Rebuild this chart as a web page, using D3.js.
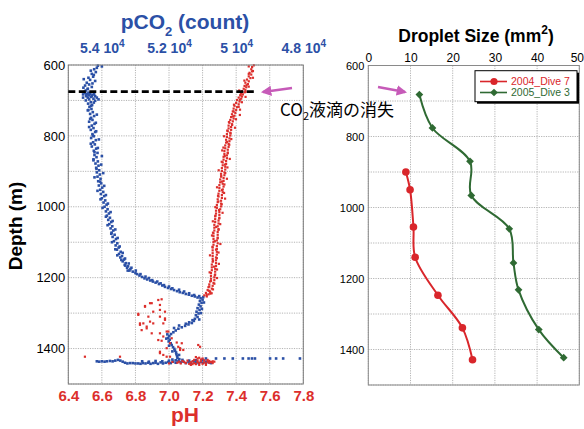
<!DOCTYPE html>
<html><head><meta charset="utf-8">
<script src="https://cdn.jsdelivr.net/npm/d3@7"></script>
<style>body{margin:0;background:#fff}svg{display:block}text{font-family:"Liberation Sans",Arial,Helvetica,sans-serif}</style>
</head><body><svg id="c" width="584" height="429"></svg>
<script>
// ---------- data ----------
const pHTicks = [6.4, 6.6, 6.8, 7.0, 7.2, 7.4, 7.6, 7.8];
const pco2Ticks = [54000, 52000, 50000, 48000];
const depthTicks = [600, 800, 1000, 1200, 1400];
const depthGrid = [600, 700, 800, 900, 1000, 1100, 1200, 1300, 1400, 1500];
const sizeTicks = [0, 10, 20, 30, 40, 50];
const seriesNames = ["2004_Dive 7", "2005_Dive 3"];
const drop2004Depth = [900, 950, 1055, 1140, 1247, 1339, 1429];
const drop2004Size = [8.9, 9.9, 10.7, 11.1, 16.5, 22.3, 24.7];
const drop2005Depth = [682, 776, 870, 966, 1060, 1156, 1232, 1344, 1423];
const drop2005Size = [12.1, 15.2, 24.1, 24.4, 33.4, 34.4, 35.6, 40.4, 46.3];
const disappearDepth = 675;
const disappearPH = [6.4, 7.51];

// pCO2 (count) vs depth
const pco2Points = [
[54120,602],[54150,608],[54230,612],[54180,620],[54300,625],[54260,633],[54400,636],[54350,642],[54200,645],[54450,650],
[54380,655],[54500,658],[54300,662],[54420,667],[54550,664],[54480,672],[54520,676],[54400,678],[54350,681],[54560,683],
[54470,686],[54300,688],[54420,692],[54380,697],[54500,679],[54450,682],[54380,685],[54280,684],[54200,688],[54150,692],
[54250,695],[54330,690],[54460,688],[54100,697],[54200,701],[54480,700],[54330,705],[54410,709],[54290,713],[54370,718],
[54310,724],[54420,728],[54270,733],[54350,738],[54230,744],[54320,749],[54280,755],[54380,760],[54220,766],[54300,771],
[54250,778],[54330,783],[54200,789],[54280,795],[54240,801],[54320,806],[54180,812],[54260,818],[54210,824],[54300,830],
[54170,836],[54240,842],[54130,848],[54220,854],[54160,860],[54250,866],[54120,872],[54190,878],[54100,884],[54170,890],
[54080,897],[54150,903],[54060,909],[54130,915],[54040,921],[54110,928],[54020,934],[54090,940],[53990,946],[54050,952],
[53960,958],[54030,964],[53930,970],[54000,976],[53900,982],[53950,988],[53860,994],[53920,1000],[53830,1007],[53880,1013],
[53790,1019],[53850,1025],[53760,1031],[53810,1037],[53720,1043],[53780,1049],[53690,1055],[53740,1061],[53660,1067],[53710,1073],
[53620,1079],[53680,1085],[53580,1091],[53640,1097],[53540,1103],[53590,1109],[53500,1115],[53550,1121],[53440,1127],[53490,1133],
[53400,1139],[53450,1143],[53340,1149],[53380,1154],[53290,1159],[53320,1164],[53220,1168],[53250,1172],[53150,1176],[53180,1180],
[53080,1183],[53000,1187],[52950,1190],[52880,1194],[52800,1198],[52730,1202],[52650,1205],[52560,1208],[52480,1211],[52400,1214],
[52300,1218],[52200,1222],[52120,1226],[52030,1229],[51940,1232],[51850,1235],[51760,1238],[51680,1241],[51590,1243],[51500,1246],
[51410,1248],[51320,1251],[51230,1253],[51150,1256],[51060,1258],[51000,1262],[51080,1266],[51030,1271],[51110,1276],[51060,1281],
[51150,1286],[51090,1291],[51180,1296],[51120,1301],[51200,1306],[51150,1311],[51230,1316],[51260,1322],[51320,1328],[51420,1332],
[51520,1336],[51620,1340],[51720,1344],[51800,1349],[51870,1354],[51940,1359],[51990,1365],[52030,1370],[51980,1375],[52010,1380],
[51950,1385],[51920,1390],[51880,1396],[51840,1401],[51820,1406],[51790,1411],[51780,1416],[51760,1421],[51750,1426],
[54000,604],[54330,616],[54240,628],[54540,640],[54280,652],[54420,668],[54230,681],[54560,692],[54240,706],[54320,715],
[54400,727],[54150,740],[54350,752],[54180,763],[54380,775],[54170,787],[54270,799],[54090,810],[54330,822],[54120,834],
[54220,846],[54000,857],[54250,869],[54020,881],[54160,893],[53960,905],[54220,917],[54050,929],[53930,941],[54130,955],
[53880,967],[54040,979],[53820,991],[53980,1003],[53740,1015],[53880,1028],[53680,1040],[53830,1052],[53600,1064],[53720,1076],
[53530,1088],[53700,1100],[53470,1112],[53600,1120],[53380,1130],[53540,1137],[53310,1146],[53420,1150],[53200,1160],[53300,1166],
[53120,1172],[53230,1180],[52990,1180],[52850,1190],[52700,1197],[52600,1201],[52500,1207],[52350,1211],[52250,1216],[52150,1221],
[52000,1225],[51900,1230],[51700,1234],[51550,1239],[51400,1244],[51250,1249],[51100,1252],[50980,1255],[50960,1270],[51020,1288],
[51050,1300],[51100,1318],[51300,1320],[51400,1326],[51500,1330],[51700,1335],[51850,1342],[52050,1360],[52080,1372],[52000,1392],
[51900,1408],[51700,1418],[51700,1430],
[54150,1436],[54080,1437],[54000,1436],[53920,1437],[53850,1436],[53760,1435],[53680,1436],[53600,1434],[53520,1432],[53450,1434],
[53380,1437],[53310,1440],[53240,1442],[53160,1441],[53080,1441],[53000,1442],[52920,1442],[52850,1443],[52780,1441],[52700,1442],
[52620,1440],[52550,1443],[52470,1441],[52400,1440],[52330,1443],[52250,1439],[52180,1442],[52100,1440],[52020,1438],[51950,1441],
[51880,1437],[51800,1440],[51720,1436],[51650,1439],[51570,1437],[51500,1441],[51420,1438],[51350,1440],[51270,1436],[51200,1439],
[51120,1441],[51050,1438],[50980,1440],[50900,1437],[50820,1439],[50750,1441],
[52800,1436],[52600,1437],[52400,1435],[52200,1436],[52000,1434],[51800,1433],[51600,1432],[51400,1434],[51200,1433],[51000,1432],
[51700,1430],[51900,1431],
[50900,1428],[50600,1428],[50350,1428],[50100,1428],[49800,1428],[49630,1428],[49530,1428],[49440,1428],[48990,1428],[48810,1428],
[48600,1428],[48100,1428]
];

// pH vs depth
const pHPoints = [
[7.505,601],[7.495,606],[7.49,612],[7.50,617],[7.48,622],[7.49,627],[7.475,632],[7.485,637],[7.465,641],[7.475,646],
[7.455,650],[7.47,654],[7.45,659],[7.46,663],[7.445,667],[7.455,671],[7.435,674],[7.45,677],[7.43,680],[7.44,683],
[7.425,686],[7.435,689],[7.415,692],[7.43,695],
[7.405,699],[7.42,703],[7.40,707],[7.415,711],[7.39,715],[7.405,719],[7.385,723],[7.40,727],[7.38,731],[7.395,735],
[7.375,739],[7.39,743],[7.37,747],[7.385,751],[7.365,755],[7.38,759],[7.36,763],[7.375,767],[7.355,771],[7.37,775],
[7.355,779],[7.37,783],[7.35,787],[7.365,791],[7.345,795],[7.365,799],[7.345,803],[7.36,807],[7.34,811],[7.36,815],
[7.34,819],[7.355,823],[7.335,827],[7.355,831],[7.335,835],[7.35,839],[7.33,843],[7.35,847],[7.33,851],
[7.345,855],[7.325,859],[7.345,863],[7.325,867],[7.34,871],[7.32,875],[7.34,879],[7.32,883],[7.335,887],[7.315,891],
[7.335,895],[7.315,899],[7.33,903],[7.31,907],[7.33,911],[7.31,915],[7.325,919],[7.305,923],[7.325,927],[7.305,931],
[7.32,935],[7.30,939],[7.325,943],[7.30,947],[7.32,951],
[7.30,955],[7.32,959],[7.295,963],[7.315,967],[7.295,971],[7.315,975],[7.29,979],[7.31,983],[7.29,987],[7.31,991],
[7.285,995],[7.31,999],[7.285,1003],[7.305,1007],[7.28,1011],[7.30,1015],[7.28,1019],[7.30,1023],[7.275,1027],[7.30,1031],
[7.275,1035],[7.295,1039],[7.275,1043],[7.295,1047],[7.27,1051],
[7.29,1055],[7.27,1059],[7.295,1063],[7.27,1067],[7.29,1071],[7.265,1075],[7.29,1079],[7.265,1083],[7.29,1087],[7.265,1091],
[7.285,1095],[7.265,1099],[7.29,1103],[7.265,1107],[7.285,1111],[7.26,1115],[7.285,1119],[7.26,1123],[7.285,1127],[7.26,1131],
[7.285,1135],[7.26,1139],[7.28,1143],[7.26,1147],[7.28,1151],
[7.26,1155],[7.28,1159],[7.255,1163],[7.28,1167],[7.255,1171],[7.275,1175],[7.255,1179],[7.275,1183],[7.25,1187],[7.275,1191],
[7.25,1195],[7.27,1199],[7.25,1203],[7.27,1207],[7.245,1211],[7.265,1215],[7.24,1219],[7.26,1223],[7.235,1227],[7.255,1231],
[7.23,1235],[7.245,1239],[7.22,1243],[7.235,1247],[7.21,1250],[7.225,1253],
[7.475,604],[7.495,618],[7.475,625],[7.50,636],[7.449,644],[7.462,657],[7.475,661],[7.418,672],[7.456,676],[7.426,684],
[7.456,690],[7.422,698],[7.434,705],[7.387,712],[7.415,718],[7.423,726],[7.385,731],[7.422,741],[7.382,745],[7.399,753],
[7.357,761],[7.376,769],[7.393,777],[7.347,785],[7.367,793],[7.328,801],[7.371,809],[7.346,817],[7.359,825],[7.324,833],
[7.317,841],[7.35,849],[7.332,857],[7.362,865],[7.314,873],[7.334,881],[7.348,889],[7.296,897],[7.335,905],[7.311,913],
[7.345,921],[7.315,929],[7.33,937],[7.286,945],[7.316,953],[7.328,961],[7.292,969],[7.334,977],[7.294,985],[7.314,993],
[7.276,1001],[7.298,1009],[7.319,1017],[7.277,1025],[7.299,1033],[7.261,1041],[7.305,1049],[7.281,1057],[7.295,1065],[7.262,1073],
[7.256,1081],[7.29,1089],[7.273,1097],[7.306,1105],[7.259,1113],[7.28,1121],[7.295,1129],[7.244,1137],[7.285,1145],[7.262,1153],
[7.297,1161],[7.268,1169],[7.286,1177],[7.242,1185],[7.273,1193],[7.286,1201],[7.25,1209],[7.27,1217],[7.24,1225],[7.262,1233],
[7.237,1237],[7.246,1245],
[7.224,1249],[7.244,1240],[7.254,1244],
[6.857,1280],[6.897,1272],[6.936,1263],[6.946,1277],[6.906,1296],[6.946,1291],[6.976,1296],[6.817,1302],[6.877,1310],[6.976,1315],
[6.966,1329],[6.887,1324],[6.847,1329],[6.827,1333],[6.867,1343],[6.837,1348],[6.897,1357],[6.946,1357],[6.986,1352],[6.936,1376],
[6.956,1378],[7.016,1371],[7.046,1383],[7.076,1385],[7.055,1395],[7.174,1390],[7.185,1395],[7.085,1404],[6.946,1409],[6.966,1418],
[6.986,1423],[7.006,1423],[6.708,1423],[6.499,1423],
[6.817,1305],[6.857,1282],[6.887,1272],[6.956,1261],[6.827,1329],[6.867,1338],[6.946,1310],[6.976,1319],[6.906,1329],[6.996,1352],
[6.966,1366],[7.006,1385],[6.986,1399],[7.066,1404],[6.946,1413],[7.066,1399],
[7.05,1440],[7.07,1442],[7.09,1438],[7.10,1441],[7.12,1443],[7.13,1439],[7.14,1436],[7.15,1441],[7.16,1444],[7.17,1438],
[7.18,1441],[7.19,1436],[7.20,1443],[7.21,1439],[7.22,1442],[7.23,1437],[7.24,1440],[7.25,1438],[7.26,1436],[7.27,1437],
[7.15,1432],[7.17,1434],[7.19,1431],[7.21,1433],[7.23,1432],[7.11,1434],[7.08,1435],[7.13,1446],[7.18,1446],[7.22,1446],
[7.02,1438],[7.00,1442],[7.16,1424],[7.18,1426],[7.20,1428],[7.17,1428],[7.24,1435],[7.26,1441],[7.14,1444],[7.06,1437]
];

// ---------- layout ----------
const svg = d3.select("#c");
const BLUE = "#2b50a6", RED = "#dc2f2c", RED2 = "#d9262b", GREEN = "#2f6a33", MAG = "#c65ab8";
const L = {x0: 68.3, x1: 303.3, y0: 65, y1: 384};
const R = {x0: 368.3, x1: 579.3, y0: 65.5, y1: 385};

const xPH = d3.scaleLinear([6.4, 7.8], [L.x0, L.x1]);
const xCO2 = d3.scaleLinear([55000, 48000], [L.x0, L.x1]);
const yL = d3.scaleLinear([600, 1500], [L.y0, L.y1]);
const xS = d3.scaleLinear([0, 50], [R.x0, R.x1]);
const yR = d3.scaleLinear([600, 1500], [R.y0, R.y1]);

function grid(g, xs, xt, ys, P) {
  g.selectAll(".gv").data(xt).join("line")
    .attr("x1", d => xs(d)).attr("x2", d => xs(d)).attr("y1", P.y0).attr("y2", P.y1);
  g.selectAll(".gh").data(depthGrid).join("line").attr("class","gh")
    .attr("x1", P.x0).attr("x2", P.x1).attr("y1", d => ys(d)).attr("y2", d => ys(d));
  g.selectAll("line").attr("stroke", "#b4b4b4").attr("stroke-width", 1).attr("stroke-dasharray", "1.2,1.2");
}

// ---------- left chart ----------
const gl = svg.append("g");
grid(gl.append("g"), xPH, pHTicks, yL, L);

const dots = gl.append("g");
dots.selectAll(".b").data(pco2Points).join("rect").attr("class","b")
  .attr("x", d => xCO2(d[0]) - 1.3).attr("y", d => yL(d[1]) - 1.3)
  .attr("width", 2.6).attr("height", 2.6).attr("fill", BLUE);
dots.selectAll(".r").data(pHPoints).join("rect").attr("class","r")
  .attr("x", d => xPH(d[0]) - 1.1).attr("y", d => yL(d[1]) - 1.1)
  .attr("width", 2.2).attr("height", 2.2).attr("fill", RED);

gl.append("rect").attr("x", L.x0).attr("y", L.y0).attr("width", L.x1 - L.x0).attr("height", L.y1 - L.y0)
  .attr("fill", "none").attr("stroke", "#7a7a7a").attr("stroke-width", 1);

// dashed line
gl.append("line").attr("x1", xPH(disappearPH[0])).attr("x2", xPH(disappearPH[1]))
  .attr("y1", yL(disappearDepth)).attr("y2", yL(disappearDepth))
  .attr("stroke", "#000").attr("stroke-width", 2.6).attr("stroke-dasharray", "7,3.5");

// axes left
const axB = gl.append("g").attr("transform", `translate(0,${L.y1})`)
  .call(d3.axisBottom(xPH).tickValues(pHTicks).tickSize(0).tickPadding(6).tickFormat(d3.format(".1f")));
axB.select(".domain").remove();
axB.selectAll("text").attr("fill", RED).attr("font-size", 15).attr("font-weight", "bold");

const axT = gl.append("g").attr("transform", `translate(0,${L.y0})`)
  .call(d3.axisTop(xCO2).tickValues(pco2Ticks).tickSize(0).tickPadding(12).tickFormat(d => d3.format("~g")(d / 1e4)));
axT.select(".domain").remove();
axT.selectAll("text").attr("fill", BLUE).attr("font-size", 14).attr("font-weight", "bold")
  .each(function(d) {
    const t = d3.select(this);
    t.append("tspan").text(" 10");
    t.append("tspan").attr("font-size", 10).attr("dy", -6).text("4");
  });

const axLft = gl.append("g").attr("transform", `translate(${L.x0},0)`)
  .call(d3.axisLeft(yL).tickValues(depthTicks).tickSize(0).tickPadding(3).tickFormat(d3.format("d")));
axLft.select(".domain").remove();
axLft.selectAll("text").attr("fill", "#000").attr("font-size", 13);

// titles left
const t1 = svg.append("text").attr("x", 185).attr("y", 29).attr("text-anchor", "middle")
  .attr("fill", BLUE).attr("font-size", 21).attr("font-weight", "bold");
t1.append("tspan").text("pCO");
t1.append("tspan").attr("font-size", 13).attr("dy", 7).text("2");
t1.append("tspan").attr("dy", -7).text(" (count)");

svg.append("text").attr("x", 185).attr("y", 422).attr("text-anchor", "middle")
  .attr("fill", RED).attr("font-size", 21).attr("font-weight", "bold").text("pH");

svg.append("text").attr("transform", "translate(22,226) rotate(-90)").attr("text-anchor", "middle")
  .attr("fill", "#000").attr("font-size", 19).attr("font-weight", "bold").text("Depth (m)");

// ---------- right chart ----------
const gr = svg.append("g");
grid(gr.append("g"), xS, sizeTicks, yR, R);
gr.append("rect").attr("x", R.x0).attr("y", R.y0).attr("width", R.x1 - R.x0).attr("height", R.y1 - R.y0)
  .attr("fill", "none").attr("stroke", "#8a8a8a").attr("stroke-width", 1);

const axRT = gr.append("g").attr("transform", `translate(0,${R.y0})`)
  .call(d3.axisTop(xS).tickValues(sizeTicks).tickSize(0).tickPadding(4));
axRT.select(".domain").remove();
axRT.selectAll("text").attr("fill", "#000").attr("font-size", 12)
  .attr("dx", d => d === 50 ? -2.5 : 0);

const axRL = gr.append("g").attr("transform", `translate(${R.x0},0)`)
  .call(d3.axisLeft(yR).tickValues(depthTicks).tickSize(0).tickPadding(4).tickFormat(d3.format("d")));
axRL.select(".domain").remove();
axRL.selectAll("text").attr("fill", "#000").attr("font-size", 11);

const line = d3.line().x(d => xS(d[0])).y(d => yR(d[1])).curve(d3.curveCatmullRom.alpha(0.5));
const s2004 = drop2004Size.map((s, i) => [s, drop2004Depth[i]]);
const s2005 = drop2005Size.map((s, i) => [s, drop2005Depth[i]]);
gr.append("path").attr("d", line(s2004)).attr("fill", "none").attr("stroke", RED2).attr("stroke-width", 2);
gr.append("path").attr("d", line(s2005)).attr("fill", "none").attr("stroke", GREEN).attr("stroke-width", 2);
gr.selectAll(".c4").data(s2004).join("circle").attr("cx", d => xS(d[0])).attr("cy", d => yR(d[1]))
  .attr("r", 3.8).attr("fill", RED2);
const dia = d3.symbol().type(d3.symbolSquare).size(30);
gr.selectAll(".d5").data(s2005).join("path").attr("d", dia)
  .attr("transform", d => `translate(${xS(d[0])},${yR(d[1])}) rotate(45)`).attr("fill", GREEN);

// title right
const t2 = svg.append("text").attr("x", 476).attr("y", 42).attr("text-anchor", "middle")
  .attr("fill", "#000").attr("font-size", 17.5).attr("font-weight", "bold");
t2.append("tspan").text("Droplet Size (mm");
t2.append("tspan").attr("font-size", 12).attr("dy", -8).text("2");
t2.append("tspan").attr("dy", 8).text(")");

// legend
const lg = svg.append("g");
lg.append("rect").attr("x", 477).attr("y", 72.7).attr("width", 102).attr("height", 31).attr("fill", "#000");
lg.append("rect").attr("x", 475).attr("y", 70.7).attr("width", 102).attr("height", 31).attr("fill", "#fff")
  .attr("stroke", "#000").attr("stroke-width", 1);
const lgCols = [RED2, GREEN];
seriesNames.forEach((n, i) => {
  const y = 81.5 + i * 11;
  lg.append("line").attr("x1", 480).attr("x2", 507).attr("y1", y).attr("y2", y).attr("stroke", lgCols[i]).attr("stroke-width", 1.6);
  if (i === 0) lg.append("circle").attr("cx", 494).attr("cy", y).attr("r", 3.6).attr("fill", lgCols[i]);
  else lg.append("path").attr("d", dia).attr("transform", `translate(494,${y}) rotate(45)`).attr("fill", lgCols[i]);
  lg.append("text").attr("x", 511).attr("y", y + 3.8).attr("font-size", 10.5).attr("fill", lgCols[i]).text(n);
});

// arrows
svg.append("defs").append("marker").attr("id", "ah").attr("viewBox", "0 0 10 10").attr("refX", 8).attr("refY", 5)
  .attr("markerWidth", 4).attr("markerHeight", 4).attr("orient", "auto")
  .append("path").attr("d", "M0,0L10,5L0,10Z").attr("fill", MAG);
svg.append("line").attr("x1", 292).attr("y1", 88).attr("x2", 263).attr("y2", 92)
  .attr("stroke", MAG).attr("stroke-width", 2.6).attr("marker-end", "url(#ah)");
svg.append("line").attr("x1", 378).attr("y1", 87).attr("x2", 405).attr("y2", 92)
  .attr("stroke", MAG).attr("stroke-width", 2.6).attr("marker-end", "url(#ah)");

// annotation
const an = svg.append("text").attr("x", 280).attr("y", 116).attr("font-size", 17).attr("fill", "#000")
  .style("font-family", '"Noto Sans CJK JP", sans-serif');
an.append("tspan").text("CO");
an.append("tspan").attr("font-size", 11).attr("dy", 4).text("2");
an.append("tspan").attr("dy", -4).text("液滴の消失");
</script></body></html>
